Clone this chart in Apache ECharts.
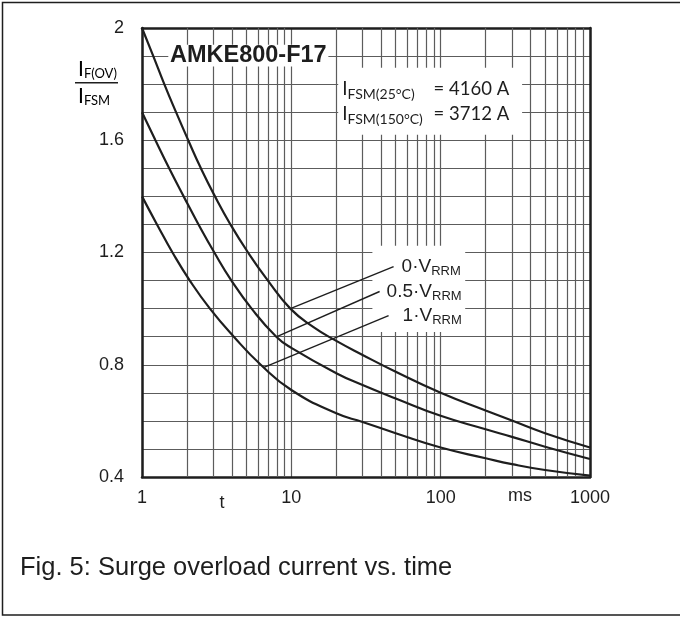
<!DOCTYPE html>
<html>
<head>
<meta charset="utf-8">
<script src="https://cdn.jsdelivr.net/npm/echarts@6/dist/echarts.min.js"></script>
<style>
  html, body { margin: 0; padding: 0; background: #fff; }
  #chart { width: 680px; height: 617px; }
</style>
</head>
<body>
<div id="chart"></div>
<script>
// 0·VRRM 曲线 (t in ms, I_F(OV)/I_FSM)
const timeTop = [1, 1.19, 1.41, 1.69, 2.04, 2.48, 3.08, 3.91, 5.13, 6.97, 9.85, 14, 20, 30, 50, 100, 200, 300, 500, 1000];
const ratioTop = [2.0, 1.9, 1.8, 1.7, 1.6, 1.5, 1.4, 1.3, 1.2, 1.1, 1.0, 0.935, 0.885, 0.835, 0.775, 0.70, 0.637, 0.601, 0.556, 0.505];
// 0.5·VRRM
const timeMid = [1, 1.23, 1.52, 1.9, 2.39, 3.05, 3.97, 5.42, 7.93, 10, 20, 30, 50, 100, 200, 300, 500, 1000];
const ratioMid = [1.7, 1.6, 1.5, 1.4, 1.3, 1.2, 1.1, 1.0, 0.9, 0.86, 0.77, 0.728, 0.68, 0.618, 0.57, 0.543, 0.508, 0.464];
// 1·VRRM
const timeLow = [1, 1.26, 1.6, 2.09, 2.85, 4.12, 6.24, 10, 20, 30, 50, 100, 200, 300, 500, 1000];
const ratioLow = [1.4, 1.3, 1.2, 1.1, 1.0, 0.9, 0.8, 0.71, 0.627, 0.596, 0.556, 0.505, 0.467, 0.446, 0.425, 0.405];

// 标注引线 (curve point -> label point)
const leaderTop = [[9.85, 1.0], [48.4, 1.15]];
const leaderMid = [[8.0, 0.9], [39.0, 1.061]];
const leaderLow = [[6.49, 0.79], [44.8, 0.975]];

// 对数网格的次级竖线
const minorTimes = [2, 3, 4, 5, 6, 7, 8, 9, 20, 30, 40, 50, 60, 70, 80, 90, 200, 300, 400, 500, 600, 700, 800, 900];

const ink = '#1e1e1e';
const gridColor = '#5c5c5c';
const sans = '"Liberation Sans", Arial, sans-serif';
const calib = 'Lato, "Noto Sans", sans-serif';

const pair = (times, ratios) => times.map((t, i) => [t, ratios[i]]);

const vRich = {
    n: { fontFamily: sans, fontSize: 19, color: ink, lineHeight: 22 },
    s: { fontFamily: sans, fontSize: 13, color: ink, lineHeight: 11, verticalAlign: 'bottom' }
};
const fsmRich = {
    i: { fontFamily: calib, fontSize: 19, color: ink, lineHeight: 25 },
    s: { fontFamily: calib, fontSize: 14, color: ink, lineHeight: 14, verticalAlign: 'bottom', width: 86 },
    n: { fontFamily: calib, fontSize: 18.5, color: ink, lineHeight: 25 }
};
const fracRich = {
    i: { fontFamily: calib, fontSize: 21, color: ink, lineHeight: 22 },
    s: { fontFamily: calib, fontSize: 13, color: ink, lineHeight: 12, verticalAlign: 'bottom' }
};

function curveSeries(data) {
    return {
        type: 'line', data: data, smooth: 0.5,
        symbol: 'none', z: 3, silent: true,
        lineStyle: { color: ink, width: 2.2 }
    };
}

function leaderSeries(data, text, gap) {
    return {
        type: 'line', data: data, symbol: 'none', z: 3, silent: true,
        lineStyle: { color: ink, width: 1.4 },
        endLabel: { show: true, formatter: () => text, rich: vRich, distance: gap }
    };
}

const chart = echarts.init(document.getElementById('chart'));

chart.setOption({
    animation: false,
    grid: { left: 142, top: 28, width: 448, height: 449 },
    xAxis: [{
        type: 'log', logBase: 10, min: 1, max: 1000,
        axisLine: { lineStyle: { color: ink, width: 2.5 } },
        axisTick: { show: false },
        axisLabel: { fontFamily: sans, fontSize: 18, color: ink, margin: 12, formatter: v => String(v) },
        splitLine: { show: true, lineStyle: { color: gridColor, width: 1.2 } }
    }, {
        type: 'log', logBase: 10, min: 1, max: 1000, position: 'top',
        axisLine: { lineStyle: { color: ink, width: 2.5 } },
        axisTick: { show: false }, axisLabel: { show: false }, splitLine: { show: false }
    }],
    yAxis: [{
        type: 'value', min: 0.4, max: 2, interval: 0.4,
        axisLine: { show: true, lineStyle: { color: ink, width: 2.5 } },
        axisTick: { show: false },
        axisLabel: { fontFamily: sans, fontSize: 18, color: ink, margin: 18 },
        splitLine: { show: true, lineStyle: { color: gridColor, width: 1.2 } },
        minorTick: { show: false, splitNumber: 4 },
        minorSplitLine: { show: true, lineStyle: { color: gridColor, width: 1.2 } }
    }, {
        type: 'value', min: 0.4, max: 2, interval: 0.4, position: 'right',
        axisLine: { show: true, lineStyle: { color: ink, width: 2.5 } },
        axisTick: { show: false }, axisLabel: { show: false }, splitLine: { show: false }
    }],
    series: [
        // minor grid lines
        {
            type: 'line', data: [], silent: true,
            markLine: {
                silent: true, symbol: ['none', 'none'], z: 1, animation: false,
                label: { show: false },
                lineStyle: { color: gridColor, width: 1.2, type: 'solid' },
                data: minorTimes.map(t => ({ xAxis: t }))
            }
        },
        // white boxes behind texts
        {
            type: 'line', data: [], silent: true,
            markArea: {
                silent: true, z: 2, animation: false,
                itemStyle: { color: '#fff' },
                data: [
                    [{
                        coord: [1.5, 1.94],
                        label: {
                            show: true, position: 'inside', formatter: 'AMKE800-F17',
                            fontFamily: sans, fontSize: 23.5, fontWeight: 'bold', color: ink
                        }
                    }, { coord: [17.7, 1.863] }],
                    [{
                        coord: [20.6, 1.858],
                        label: {
                            show: true, position: 'insideLeft', distance: 4,
                            formatter: '{i|I}{s|FSM(25°C)}{n|= 4160 A}\n{i|I}{s|FSM(150°C)}{n|= 3712 A}',
                            rich: fsmRich
                        }
                    }, { coord: [351, 1.62] }],
                    [{ coord: [34.9, 1.224], label: { show: false } }, { coord: [146, 0.917] }]
                ]
            }
        },
        curveSeries(pair(timeTop, ratioTop)),
        curveSeries(pair(timeMid, ratioMid)),
        curveSeries(pair(timeLow, ratioLow)),
        leaderSeries(leaderTop, '{n|0·V}{s|RRM}', 8),
        leaderSeries(leaderMid, '{n|0.5·V}{s|RRM}', 7),
        leaderSeries(leaderLow, '{n|1·V}{s|RRM}', 14)
    ],
    graphic: [
        {
            type: 'rect', silent: true,
            shape: { x: 2.5, y: 2.5, width: 690, height: 612.5 },
            style: { fill: null, stroke: ink, lineWidth: 1.5 }
        },
        {
            type: 'text', silent: true, x: 78, y: 69,
            style: { text: '{i|I}{s|F(OV)}', rich: fracRich, verticalAlign: 'middle' }
        },
        {
            type: 'line', silent: true,
            shape: { x1: 75, y1: 82.7, x2: 118, y2: 82.7 },
            style: { stroke: ink, lineWidth: 1.5 }
        },
        {
            type: 'text', silent: true, x: 78, y: 96,
            style: { text: '{i|I}{s|FSM}', rich: fracRich, verticalAlign: 'middle' }
        },
        {
            type: 'text', silent: true, x: 222, y: 503,
            style: { text: 't', font: '18px ' + sans, fill: ink, align: 'center', verticalAlign: 'middle' }
        },
        {
            type: 'text', silent: true, x: 520, y: 496,
            style: { text: 'ms', font: '18px ' + sans, fill: ink, align: 'center', verticalAlign: 'middle' }
        },
        {
            type: 'text', silent: true, x: 20, y: 568,
            style: { text: 'Fig. 5: Surge overload current vs. time', font: '25.5px ' + sans, fill: ink, verticalAlign: 'middle' }
        }
    ]
});
</script>
</body>
</html>
